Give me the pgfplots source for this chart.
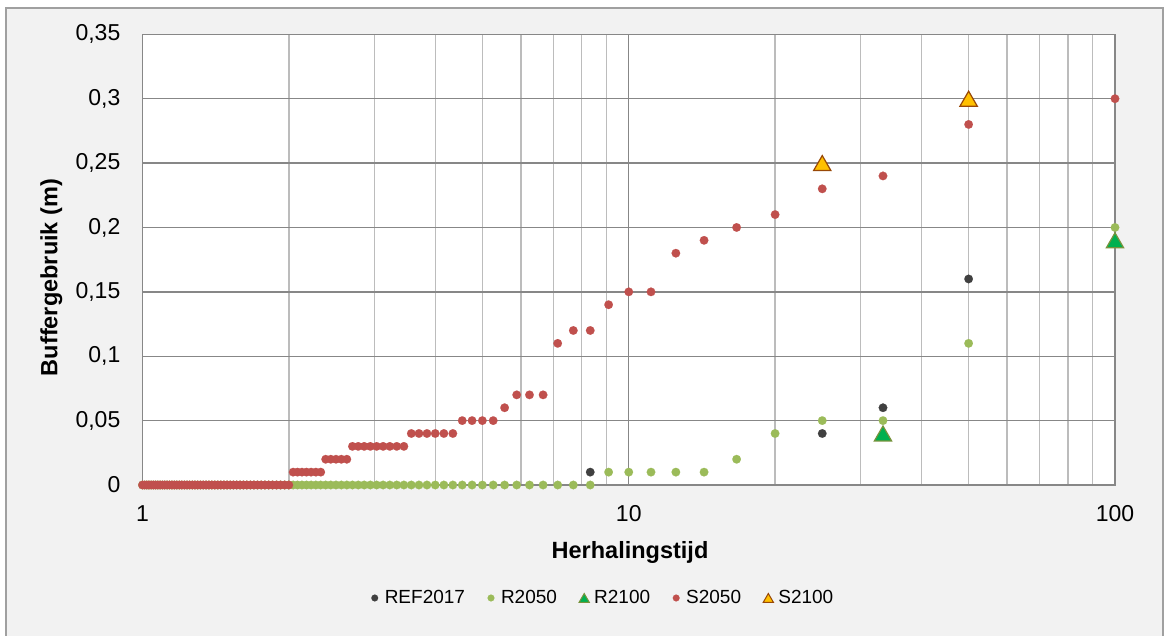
\documentclass[border=0pt]{standalone}
\usepackage{fontspec}
\setmainfont{Liberation Sans}
\usepackage{pgfplots}
\pgfplotsset{compat=1.18}
\usepackage{pgfplotstable}

\definecolor{frameBg}{HTML}{F2F2F2}
\definecolor{frameLine}{HTML}{A0A0A0}
\definecolor{gridMajor}{HTML}{878787}
\definecolor{gridMinor}{HTML}{BCBCBC}
\definecolor{refGray}{HTML}{404040}
\definecolor{rGreen}{HTML}{9BBB59}
\definecolor{rTriFill}{HTML}{00B050}
\definecolor{rTriLine}{HTML}{77933C}
\definecolor{sRed}{HTML}{C0504D}
\definecolor{sTriFill}{HTML}{FFC000}
\definecolor{sTriLine}{HTML}{984807}

% Return period T (years) and buffer use (m) per scenario
\pgfplotstableread{
T       R2050 S2050
100     0.20  0.30
50      0.11  0.28
33.333  0.05  0.24
25      0.05  0.23
20      0.04  0.21
16.667  0.02  0.20
14.286  0.01  0.19
12.5    0.01  0.18
11.111  0.01  0.15
10      0.01  0.15
9.0909  0.01  0.14
8.3333  0     0.12
7.6923  0     0.12
7.1429  0     0.11
6.6667  0     0.07
6.25    0     0.07
5.8824  0     0.07
5.5556  0     0.06
5.2632  0     0.05
5       0     0.05
4.7619  0     0.05
4.5455  0     0.05
4.3478  0     0.04
4.1667  0     0.04
4       0     0.04
3.8462  0     0.04
3.7037  0     0.04
3.5714  0     0.04
3.4483  0     0.03
3.3333  0     0.03
3.2258  0     0.03
3.125   0     0.03
3.0303  0     0.03
2.9412  0     0.03
2.8571  0     0.03
2.7778  0     0.03
2.7027  0     0.03
2.6316  0     0.02
2.5641  0     0.02
2.5     0     0.02
2.439   0     0.02
2.381   0     0.02
2.3256  0     0.01
2.2727  0     0.01
2.2222  0     0.01
2.1739  0     0.01
2.1277  0     0.01
2.0833  0     0.01
2.0408  0     0.01
2       0     0
1.9608  0     0
1.9231  0     0
1.8868  0     0
1.8519  0     0
1.8182  0     0
1.7857  0     0
1.7544  0     0
1.7241  0     0
1.6949  0     0
1.6667  0     0
1.6393  0     0
1.6129  0     0
1.5873  0     0
1.5625  0     0
1.5385  0     0
1.5152  0     0
1.4925  0     0
1.4706  0     0
1.4493  0     0
1.4286  0     0
1.4085  0     0
1.3889  0     0
1.3699  0     0
1.3514  0     0
1.3333  0     0
1.3158  0     0
1.2987  0     0
1.2821  0     0
1.2658  0     0
1.25    0     0
1.2346  0     0
1.2195  0     0
1.2048  0     0
1.1905  0     0
1.1765  0     0
1.1628  0     0
1.1494  0     0
1.1364  0     0
1.1236  0     0
1.1111  0     0
1.0989  0     0
1.087   0     0
1.0753  0     0
1.0638  0     0
1.0526  0     0
1.0417  0     0
1.0309  0     0
1.0204  0     0
1.0101  0     0
1       0     0
}\scenarios

\pgfplotstableread{
T       REF
50      0.16
33.333  0.06
25      0.04
8.3333  0.01
}\reference

\pgfplotstableread{
T       R2100
100     0.19
33.333  0.04
}\rtwentyone

\pgfplotstableread{
T       S2100
50      0.30
25      0.25
}\stwentyone

\pgfplotsset{
  dotlegend/.style={
    legend image code/.code={%
      \path[draw=none, fill=none] (0bp,-5bp) rectangle (14bp,5bp);
      \draw[##1] plot coordinates {(4bp,0bp)};}},
  dot/.style={only marks, mark=*, mark size=4.3bp, color=#1,
    mark options={solid, fill=#1, draw=#1, line width=0.1bp},
    dotlegend, legend image post style={mark size=3.4bp}},
  tri/.style 2 args={only marks, mark=triangle*, mark size=10bp, color=#2,
    mark options={solid, fill=#1, draw=#2, line width=1.2bp, yshift=-2.5bp},
    dotlegend, legend image post style={mark size=6bp,
      mark options={solid, fill=#1, draw=#2, line width=1bp, yshift=-1.5bp}}},
}

\begin{document}
\begin{tikzpicture}
\useasboundingbox (0,0) rectangle (1166bp,636bp);
\filldraw[fill=frameBg, draw=frameLine, line width=1.5bp]
  (6bp,-10bp) rectangle (1163bp,628bp);
\begin{axis}[
  at={(142.5bp,151bp)}, anchor=south west,
  scale only axis, width=972.5bp, height=450.7bp,
  xmode=log, xmin=1, xmax=100, ymin=0, ymax=0.35,
  xtick={1,10,100}, xticklabels={1,10,100},
  minor xtick={2,3,4,5,6,7,8,9,20,30,40,50,60,70,80,90},
  ytick={0,0.05,0.1,0.15,0.2,0.25,0.3,0.35},
  yticklabels={0,{0,05},{0,1},{0,15},{0,2},{0,25},{0,3},{0,35}},
  xmajorgrids, xminorgrids, ymajorgrids,
  major grid style={draw=gridMajor, line width=1.4bp},
  minor grid style={draw=gridMinor, line width=1.4bp},
  axis line style={draw=gridMajor, line width=1.4bp},
  major tick length=0pt, minor tick length=0pt,
  tick style={draw=none},
  axis background/.style={fill=white},
  clip=false,
  tick label style={font=\fontsize{23bp}{27bp}\selectfont, inner sep=0pt},
  xticklabel shift=20bp, yticklabel shift=22bp,
  xlabel={Herhalingstijd}, ylabel={Buffergebruik (m)},
  every axis x label/.style={at={([yshift=-73.3bp]axis description cs:0.5013,0)},
    anchor=base, font=\bfseries\fontsize{23.5bp}{28bp}\selectfont},
  every axis y label/.style={at={([xshift=-85.2bp]axis description cs:0,0.4604)},
    anchor=base, rotate=90, font=\bfseries\fontsize{23.5bp}{28bp}\selectfont},
  legend columns=5,
  legend style={at={(axis description cs:0.4725,-0.2507)}, anchor=center,
    draw=none, fill=none, inner sep=0pt,
    font=\fontsize{19bp}{23bp}\selectfont,
    nodes={inner sep=0pt},
    /tikz/every even column/.append style={column sep=22bp}},
]
\addplot[dot=refGray] table[x=T, y=REF] {\reference};
\addlegendentry{REF2017}
\addplot[dot=rGreen] table[x=T, y=R2050] {\scenarios};
\addlegendentry{R2050}
\addplot[tri={rTriFill}{rTriLine}] table[x=T, y=R2100] {\rtwentyone};
\addlegendentry{R2100}
\addplot[dot=sRed] table[x=T, y=S2050] {\scenarios};
\addlegendentry{S2050}
\addplot[tri={sTriFill}{sTriLine}] table[x=T, y=S2100] {\stwentyone};
\addlegendentry{S2100}
\end{axis}
\end{tikzpicture}
\end{document}
